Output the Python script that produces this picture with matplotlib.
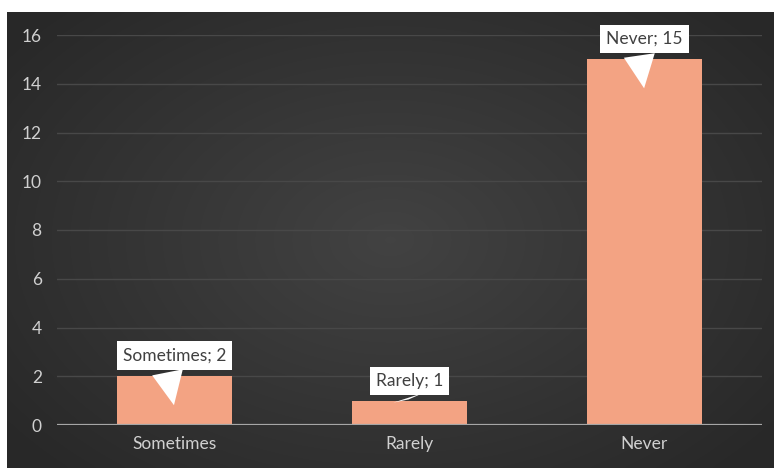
import numpy as np
import matplotlib
matplotlib.use("Agg")
import matplotlib.pyplot as plt

categories = ["Sometimes", "Rarely", "Never"]
values = [2, 1, 15]
yticks = [0, 2, 4, 6, 8, 10, 12, 14, 16]

W, H = 774, 468
fig = plt.figure(figsize=(W / 100, H / 100), dpi=100, facecolor="white")
plt.rcParams['font.family'] = ['Lato', 'DejaVu Sans']

# background with radial gradient
bg = fig.add_axes([7 / W, 0, (W - 7) / W, (H - 12) / H])
bg.set_axis_off()
yy, xx = np.mgrid[-1:1:200j, -1:1:300j]
r = np.sqrt((xx * 0.9) ** 2 + (yy * 0.8) ** 2)
g = np.clip(0.26 - 0.09 * r, 0.16, 0.27)
img = np.dstack([g, g, g])
bg.imshow(img, aspect="auto", extent=[0, 1, 0, 1], interpolation="bicubic")

ax = fig.add_axes([57 / W, (H - 425) / H, (762 - 57) / W, 390 / H])
ax.patch.set_alpha(0)
x = np.arange(len(categories))
ax.bar(x, values, width=0.49, color="#F3A383", zorder=3)
ax.set_xlim(-0.5, len(categories) - 0.5)
ax.set_ylim(0, 16)
ax.set_yticks(yticks)
ax.set_xticks(x)
ax.set_xticklabels(categories)
for s in ax.spines.values():
    s.set_visible(False)
ax.axhline(0, color="#a6a6a6", lw=1.6, zorder=4)
ax.grid(axis="y", color="#484848", lw=1.0, zorder=0)
ax.tick_params(axis="both", length=0, colors="#d0d0d0", labelsize=12.5)
ax.tick_params(axis="x", pad=8)
ax.tick_params(axis="y", pad=11)

# callout labels
offsets = [(2.85, 0.7), (1.8, 0.94), (15.85, 13.7)]
for xi, v, cat, (ty, py) in zip(x, values, categories, offsets):
    ax.annotate(f"{cat}; {v}", xy=(xi, py), xytext=(xi, ty),
                ha="center", va="center", fontsize=12.5, color="#404040",
                bbox=dict(boxstyle="square,pad=0.35", fc="white", ec="none"),
                arrowprops=dict(arrowstyle="wedge,tail_width=1.8,shrink_factor=0.5",
                                fc="white", ec="none", relpos=(0.4, 0.5)),
                zorder=6)

fig.savefig("out.png", dpi=100, facecolor="white")
